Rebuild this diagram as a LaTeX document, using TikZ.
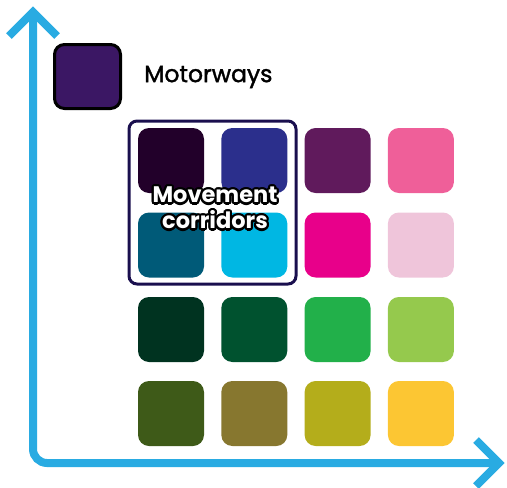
\documentclass[tikz,border=0pt]{standalone}
\usepackage{fontspec}
\setmainfont{Poppins}
\newfontfamily\motorfont{Poppins}[FakeBold=1.6]
\usetikzlibrary{calc}
\definecolor{axisblue}{HTML}{29ABE2}
\definecolor{boxnavy}{HTML}{1A0F4E}
\definecolor{legendfill}{HTML}{3B1764}
\definecolor{cA}{HTML}{22002A}
\definecolor{cB}{HTML}{2B2F8C}
\definecolor{cC}{HTML}{601A5C}
\definecolor{cD}{HTML}{EF5F99}
\definecolor{cE}{HTML}{005A78}
\definecolor{cF}{HTML}{00B7E3}
\definecolor{cG}{HTML}{E8008A}
\definecolor{cH}{HTML}{EFC5DA}
\definecolor{cI}{HTML}{003320}
\definecolor{cJ}{HTML}{00522F}
\definecolor{cK}{HTML}{22B04A}
\definecolor{cL}{HTML}{95C94D}
\definecolor{cM}{HTML}{3E5A18}
\definecolor{cN}{HTML}{87772F}
\definecolor{cO}{HTML}{B4AD1B}
\definecolor{cP}{HTML}{FCC633}
\tikzset{
  tile/.style={rectangle, rounded corners=11pt, minimum width=66pt, minimum height=65pt, inner sep=0pt, draw=none},
  axisline/.style={draw=axisblue, line width=8pt, line cap=butt, line join=miter},
  corrtext/.style={font=\bfseries\fontsize{22.5}{26}\selectfont, align=center, inner sep=0pt}
}
\begin{document}
\begin{tikzpicture}[x=1pt,y=-1pt]
\useasboundingbox (0,0) rectangle (507,488);
% axes
\coordinate (top) at (33,12);
\coordinate (corner) at (33,463);
\coordinate (right) at (499,463);
\draw[axisline, rounded corners=14pt] (top) -- (corner) -- (right);
\draw[axisline] (9,36) -- (top) -- (57,36);
\draw[axisline] (476,440) -- (right) -- (476,486);
% legend
\node[rectangle, rounded corners=10pt, minimum width=66pt, minimum height=64pt, fill=legendfill, draw=black, line width=3pt] (legend) at (87.5,76.5) {};
\node[anchor=west, font=\motorfont\fontsize{23.5}{26}\selectfont, text=black, inner sep=0pt] (motorways) at (144,77) {Motorways};
% grid of tiles
\foreach \c [count=\i from 0] in {cA,cB,cC,cD}{
  \node[tile, fill=\c] (r1c\i) at (171+83.3*\i,160.5) {};
}
\foreach \c [count=\i from 0] in {cE,cF,cG,cH}{
  \node[tile, fill=\c] (r2c\i) at (171+83.3*\i,245) {};
}
\foreach \c [count=\i from 0] in {cI,cJ,cK,cL}{
  \node[tile, fill=\c] (r3c\i) at (171+83.3*\i,329.5) {};
}
\foreach \c [count=\i from 0] in {cM,cN,cO,cP}{
  \node[tile, fill=\c] (r4c\i) at (171+83.3*\i,413.5) {};
}
% movement corridors box
\node[rectangle, rounded corners=8pt, draw=boxnavy, line width=3pt, minimum width=167pt, minimum height=163pt] (corrbox) at (212.5,202.5) {};
\foreach \a in {0,22.5,...,359}{
  \node[corrtext, text=black] at ($(215,208)+(\a:2.2pt)$) {Movement\\corridors};
}
\node[corrtext, text=white] (corr) at (215,208) {Movement\\corridors};
\end{tikzpicture}
\end{document}
